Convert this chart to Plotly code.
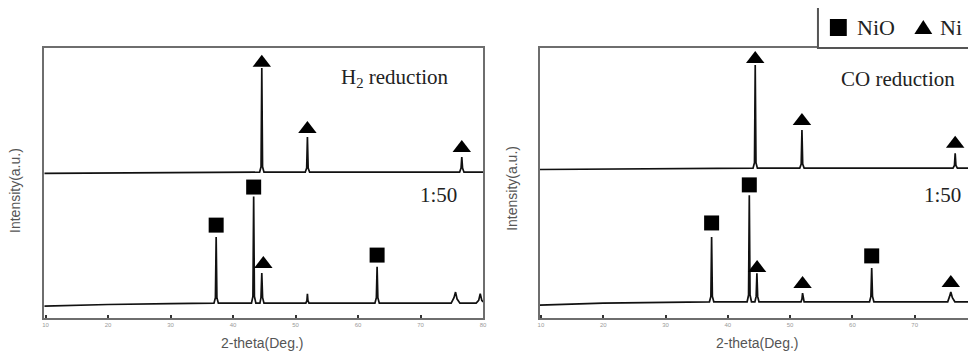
import plotly.graph_objects as go

# ---- data (2-theta in degrees, intensity in arbitrary stacked units) ----
h2_x = [9.8, 44.25, 44.48, 44.6, 44.72, 44.95, 51.55, 51.78, 51.9, 52.02, 52.25,
        76.25, 76.48, 76.6, 76.72, 76.95, 80]
h2_y = [53.6, 54, 56, 92.6, 56, 54, 54, 55.5, 67, 55.5, 54, 54, 55.5, 59.6, 55.5, 54, 54]

h2_150_x = [9.8, 20, 30, 36.95, 37.18, 37.3, 37.42, 37.65, 42.95, 43.18, 43.3, 43.42,
            43.65, 44.3, 44.47, 44.6, 44.73, 44.95, 51.65, 51.82, 51.9, 51.98, 52.15,
            62.7, 62.93, 63.05, 63.17, 63.4, 74.9, 75.35, 75.6, 75.85, 76.3, 78.9,
            79.3, 79.55, 79.8, 80]
h2_150_y = [4.4, 5.0, 5.3, 5.5, 7.5, 30, 7.5, 5.5, 5.5, 8, 45, 8,
            5.5, 5.5, 7.5, 16.7, 7.5, 5.5, 5.5, 6.5, 9, 6.5, 5.5,
            5.5, 7.5, 19, 7.5, 5.5, 5.5, 7.5, 9.6, 7, 5.5, 5.5,
            6.5, 9, 6.5, 6]

co_x = [9.8, 44.05, 44.28, 44.4, 44.52, 44.75, 51.55, 51.78, 51.9, 52.02, 52.25,
        76.15, 76.38, 76.5, 76.62, 76.85, 79.2]
co_y = [55.0, 55.5, 57.5, 93.7, 57.5, 55.5, 55.5, 57, 69.6, 57, 55.5, 55.5, 56.5, 61,
        56.5, 55.5, 55.5]

co_150_x = [9.8, 20, 30, 37.05, 37.28, 37.4, 37.52, 37.75, 43.1, 43.33, 43.45, 43.57,
            43.8, 44.35, 44.55, 44.67, 44.79, 45.0, 51.75, 51.9, 52.0, 52.1, 52.25,
            62.75, 62.97, 63.1, 63.23, 63.45, 75.3, 75.6, 75.8, 76.05, 76.45, 79.2]
co_150_y = [4.8, 5.5, 5.8, 6, 8, 30, 8, 6, 6, 8.5, 45.5, 8.5,
            6, 6, 8, 16.6, 8, 6, 6, 7, 9.2, 7, 6,
            6, 8, 18.5, 8, 6, 6, 8, 9.6, 7.5, 6, 6]

# phase markers
left_nio_x = [37.3, 43.3, 63.05]
left_nio_y = [34.4, 48.5, 23.3]
left_ni_x = [44.6, 51.9, 76.6, 44.85]
left_ni_y = [94.5, 70.0, 63.0, 20.0]

right_nio_x = [37.4, 43.45, 63.1]
right_nio_y = [35.2, 49.3, 23.0]
right_ni_x = [44.4, 51.9, 76.5, 44.7, 52.0, 75.8]
right_ni_y = [95.9, 73.0, 64.5, 18.5, 12.6, 13.0]

tick_vals = [10, 20, 30, 40, 50, 60, 70, 80]
tick_text = ["10", "20", "30", "40", "50", "60", "70", "80"]

# page body has an 8px margin: figure drawn at (8, 8) inside the 976x354 window
OFF = 8
W, H = 976 - OFF, 354 - OFF
FRAME = "#6e6e6e"
LINE = "#111111"


def px(x):
    return (x - OFF) / W


def py(y):
    return 1 - (y - OFF) / H


fig = go.Figure()


def add_line(x, y, xa, ya):
    fig.add_trace(go.Scatter(x=x, y=y, mode="lines", xaxis=xa, yaxis=ya,
                             line=dict(color=LINE, width=1.7), showlegend=False,
                             hoverinfo="skip"))


add_line(h2_x, h2_y, "x", "y")
add_line(h2_150_x, h2_150_y, "x", "y")
add_line(co_x, co_y, "x2", "y2")
add_line(co_150_x, co_150_y, "x2", "y2")


def add_markers(x, y, xa, ya, symbol, size, name):
    fig.add_trace(go.Scatter(x=x, y=y, mode="markers", xaxis=xa, yaxis=ya, name=name,
                             marker=dict(symbol=symbol, size=size, color="#000000",
                                         line=dict(width=0)),
                             showlegend=False, cliponaxis=False))


add_markers(left_nio_x, left_nio_y, "x", "y", "square", 15, "NiO")
add_markers(left_ni_x, left_ni_y, "x", "y", "triangle-up", 16, "Ni")
add_markers(right_nio_x, right_nio_y, "x2", "y2", "square", 15, "NiO")
add_markers(right_ni_x, right_ni_y, "x2", "y2", "triangle-up", 16, "Ni")

ydom = [py(318), py(48)]
axis_common = dict(ticks="inside", ticklen=3, tickwidth=1.5, tickcolor="#333",
                   tickvals=tick_vals, ticktext=tick_text,
                   tickfont=dict(family="Arial", size=6, color="#9a9a9a"),
                   showgrid=False, zeroline=False, showline=True,
                   linecolor=FRAME, linewidth=2, mirror=True)

fig.update_layout(
    width=W, height=H,
    margin=dict(l=0, r=0, t=0, b=0),
    paper_bgcolor="white", plot_bgcolor="white",
    xaxis=dict(domain=[px(42.5), px(484)], range=[9.8, 80], anchor="y", **axis_common),
    yaxis=dict(domain=ydom, range=[0, 100], showticklabels=False, ticks="",
               showgrid=False, zeroline=False, showline=True, linecolor=FRAME,
               linewidth=2, mirror=True, anchor="x"),
    xaxis2=dict(domain=[px(541), 1.0], range=[9.8, 79.2], anchor="y2", **axis_common),
    yaxis2=dict(domain=ydom, range=[0, 100], showticklabels=False, ticks="",
                showgrid=False, zeroline=False, showline=True, linecolor=FRAME,
                linewidth=2, mirror=False, anchor="x2"),
)


def ann(text, x, y, size, family="Liberation Serif", color="#222", xanchor="center",
        angle=0):
    fig.add_annotation(text=text, x=px(x), y=py(y), xref="paper", yref="paper",
                       showarrow=False, xanchor=xanchor, yanchor="middle",
                       textangle=angle, font=dict(family=family, size=size, color=color))


ann("H<sub>2</sub> reduction", 339, 78, 21, xanchor="left")
ann("1:50", 419, 195, 21, xanchor="left")
ann("CO reduction", 842, 79, 21, xanchor="left")
ann("1:50", 926, 195, 21, xanchor="left")

ann("2-theta(Deg.)", 262, 343, 14, family="Arial", color="#555")
ann("2-theta(Deg.)", 760, 343, 14, family="Arial", color="#555")
ann("Intensity(a.u.)", 13, 190, 14, family="Arial", color="#555", angle=-90)
ann("Intensity(a.u.)", 513, 188, 14, family="Arial", color="#555", angle=-90)

# legend box (cut off by the right edge like the original)
fig.add_shape(type="rect", xref="paper", yref="paper",
              x0=px(821), x1=px(1000), y0=py(48), y1=py(7),
              line=dict(color="#555", width=2), fillcolor="white", layer="above")
# legend glyphs
fig.add_shape(type="rect", xref="paper", yref="paper",
              x0=px(833), x1=px(850), y0=py(36), y1=py(19),
              line=dict(width=0), fillcolor="#000", layer="above")
fig.add_shape(type="path", xref="paper", yref="paper",
              path=f"M {px(918)},{py(34)} L {px(936)},{py(34)} L {px(927)},{py(20)} Z",
              line=dict(width=0), fillcolor="#000", layer="above")
ann("NiO", 858, 28, 22, xanchor="left")
ann("Ni", 942, 28, 22, xanchor="left")

fig.write_html("out.html")
